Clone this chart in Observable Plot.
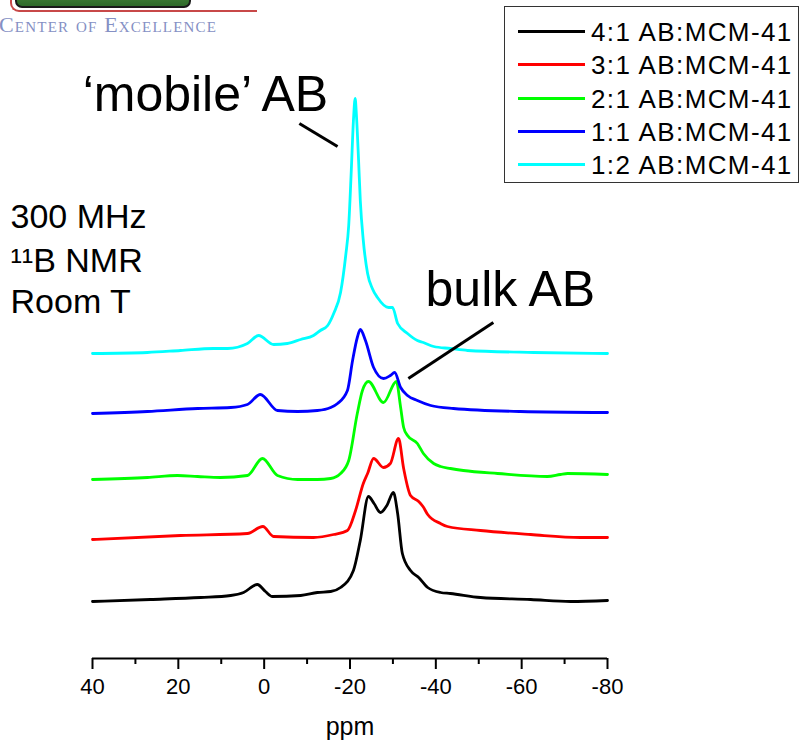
<!DOCTYPE html>
<html>
<head>
<meta charset="utf-8">
<script src="https://cdn.jsdelivr.net/npm/d3@7"></script>
<script src="https://cdn.jsdelivr.net/npm/@observablehq/plot@0.6"></script>
<style>
  html, body { margin: 0; padding: 0; background: #fff; }
  #wrap { position: relative; width: 799px; height: 743px; overflow: hidden; font-family: 'Liberation Sans', Arial, sans-serif; }
  #chart { position: absolute; left: 0; top: 0; }
  #legend { position: absolute; left: 504px; top: 6px; width: 293px; height: 175px; border: 1px solid #333; background: #fff; }
  .lline { position: absolute; left: 13px; width: 67px; height: 3px; }
  .ltext { position: absolute; left: 86px; font-size: 26px; letter-spacing: 1.4px; line-height: 30px; white-space: nowrap; color: #000; }
  #logoBox { position: absolute; left: 15px; top: -22px; width: 172px; height: 26px; border: 2px solid #1a1a1a; border-radius: 7px; background: linear-gradient(#5a9a4a, #2e6a2a); }
  #logoRed { position: absolute; left: 10px; top: -12px; width: 245px; height: 22px; border-left: 2px solid #c84848; border-bottom: 2px solid #c84848; border-bottom-left-radius: 9px; }
  #logoText { position: absolute; left: -1px; top: 12px; font-family: 'Liberation Serif', 'DejaVu Serif', serif; font-variant: small-caps; font-size: 22px; letter-spacing: 1.2px; color: #8590c4; white-space: nowrap; }
</style>
</head>
<body>
<div id="wrap">
  <div id="chart"></div>
  <div id="logoRed"></div>
  <div id="logoBox"></div>
  <div id="logoText">Center of Excellence</div>
  <div id="legend"></div>
</div>
<script>
// ---- data (ppm, intensity above each trace's baseline) ----
const ppmTicks = [40, 20, 0, -20, -40, -60, -80];
const minorTicks = [30, 10, -10, -30, -50, -70];
const seriesNames = ["4:1 AB:MCM-41", "3:1 AB:MCM-41", "2:1 AB:MCM-41", "1:1 AB:MCM-41", "1:2 AB:MCM-41"];
const seriesColors = ["#000000", "#ff0000", "#00ff00", "#0000ff", "#00ffff"];
const stackOffsets = [57, 120, 180, 246, 305];

const spec41 = [[40,0],[26.5,2],[14.8,4],[7.8,6],[4.8,9],[1.6,17],[-0.3,10],[-1.9,5],[-8.5,6],[-12.4,9],[-15.5,10],[-17.8,14],[-20.8,31],[-22.4,61],[-24.3,105],[-25.6,98],[-27.1,89],[-28.6,96],[-30.1,109],[-31.1,88],[-32.2,48],[-34.1,31],[-36.0,24],[-38.1,14],[-41.1,9],[-43.4,8],[-50.4,4],[-62.1,2],[-71.4,0],[-80,1]];
const spec31 = [[40,-1],[19.5,3],[3.9,5],[0.3,12],[-2.2,2],[-11.5,1],[-16.2,4],[-19.4,8],[-21.3,28],[-23.1,55],[-24.1,65],[-25.5,80],[-27.8,71],[-29.4,75],[-31.3,100],[-32.5,70],[-34.1,43],[-36.0,37],[-37.0,32],[-38.1,24],[-41.1,15],[-42.7,12],[-50.4,8],[-62.1,4],[-73.7,1],[-80,1]];
const spec21 = [[40,-1],[27.2,1],[20.2,3],[15.5,2],[10.2,1],[3.9,3],[0.4,20],[-3.1,3],[-7.8,-1],[-12.4,-1],[-15.5,0],[-17.8,5],[-19.7,18],[-21.7,65],[-22.9,88],[-24.3,97],[-27.8,76],[-30.8,97],[-31.8,71],[-32.5,51],[-33.4,43],[-35.7,35],[-37.1,25],[-39.5,15],[-41.1,12],[-43.4,10],[-46.4,8],[-54.4,5],[-66.0,2],[-69.0,4],[-70.7,5],[-80,4]];
const spec11 = [[40,-1],[27.2,1],[15.5,4],[7.8,5],[3.9,8],[0.9,18],[-3.1,2],[-7.8,1],[-12.4,2],[-15.5,5],[-17.1,9],[-19.4,22],[-20.6,52],[-21.7,75],[-22.4,83],[-23.6,72],[-25.5,45],[-27.8,34],[-29.4,37],[-30.4,40],[-31.8,25],[-33.4,17],[-35.7,12],[-38.8,7],[-44.1,4],[-59.7,1],[-80,0]];
const spec12 = [[40,0],[27.2,1],[19.5,3],[11.8,5],[8.5,5],[3.9,10],[1.3,18],[-2.2,9],[-5.4,10],[-8.5,14],[-11.5,18],[-13.1,23],[-14.8,28],[-16.2,40],[-17.8,61],[-19.0,98],[-19.7,128],[-20.3,183],[-20.8,233],[-21.2,255],[-21.5,238],[-22.0,193],[-22.4,153],[-23.1,113],[-24.1,80],[-25.2,65],[-26.4,56],[-29.0,46],[-29.9,46],[-31.1,30],[-33.4,20],[-35.7,13],[-37.1,11],[-39.5,7],[-43.4,5],[-47.4,3],[-62.8,1],[-80,0]];
const spectra = [spec41, spec31, spec21, spec11, spec12];

// annotations (positions in data units: ppm, stacked intensity)
const labelMobile = {x: 42.3, y: 564, text: "\u2018mobile\u2019 AB"};
const labelBulk = {x: -37.6, y: 369, text: "bulk AB"};
const labelConditions = [
  {x: 59.1, y: 441, text: "300 MHz"},
  {x: 59.1, y: 397, text: "\u00b9\u00b9B NMR"},
  {x: 59.1, y: 356, text: "Room T"}
];
const pointers = [
  {x1: -8.2, y1: 535, x2: -17.1, y2: 512},
  {x1: -33.6, y1: 280, x2: -53.4, y2: 336}
];

// ---- build table ----
const rows = [];
spectra.forEach((s, i) => s.forEach(([ppm, v]) => rows.push({ppm, y: stackOffsets[i] + v, series: seriesNames[i]})));

const chart = Plot.plot({
  width: 799,
  height: 743,
  marginLeft: 92,
  marginRight: 192,
  marginTop: 0,
  marginBottom: 85,
  x: {domain: [40, -80]},
  y: {domain: [0, 658], axis: null},
  color: {domain: seriesNames, range: seriesColors},
  style: {fontFamily: "'Liberation Sans', Arial, sans-serif", background: "transparent", color: "#000", overflow: "visible"},
  marks: [
    Plot.axisX({ticks: minorTicks, tickSize: 6, tickFormat: () => "", strokeWidth: 2, label: null}),
    Plot.axisX({ticks: ppmTicks, tickSize: 11, tickPadding: 9, tickFormat: d => String(d), fontSize: 22, strokeWidth: 2, label: null}),
    Plot.ruleY([0], {strokeWidth: 2, stroke: "#000"}),
    Plot.text(["ppm"], {frameAnchor: "bottom", dy: 76, fontSize: 25, fill: "#000"}),
    Plot.line(rows, {x: "ppm", y: "y", z: "series", stroke: "series", strokeWidth: 2.8, curve: "monotone-x"}),
    Plot.link(pointers, {x1: "x1", y1: "y1", x2: "x2", y2: "y2", stroke: "#000", strokeWidth: 3}),
    Plot.text([labelMobile], {x: "x", y: "y", text: "text", fontSize: 50, textAnchor: "start", fill: "#000"}),
    Plot.text([labelBulk], {x: "x", y: "y", text: "text", fontSize: 50, textAnchor: "start", fill: "#000"}),
    Plot.text(labelConditions, {x: "x", y: "y", text: "text", fontSize: 34, textAnchor: "start", fill: "#000"})
  ]
});
document.getElementById("chart").appendChild(chart);

// ---- legend ----
const legend = document.getElementById("legend");
const rowCenters = [32, 65, 99, 132, 165];
seriesNames.forEach((name, i) => {
  const line = document.createElement("div");
  line.className = "lline";
  line.style.top = (rowCenters[i] - 7 - 2) + "px";
  line.style.background = seriesColors[i];
  legend.appendChild(line);
  const t = document.createElement("div");
  t.className = "ltext";
  t.style.top = (rowCenters[i] - 7 - 15) + "px";
  t.textContent = name;
  legend.appendChild(t);
});
</script>
</body>
</html>
